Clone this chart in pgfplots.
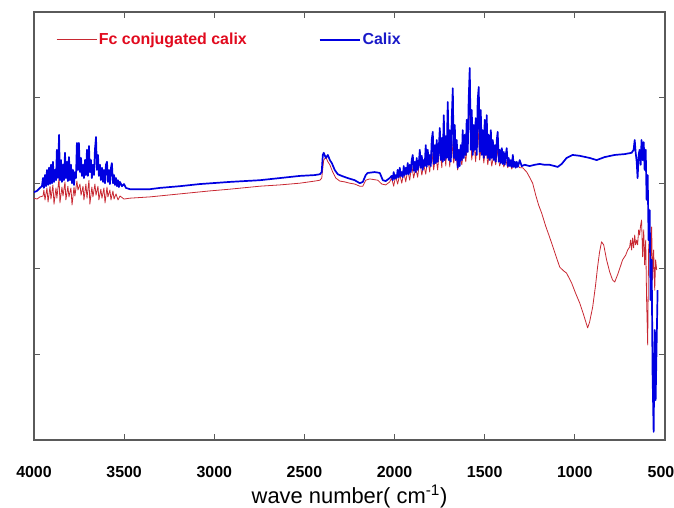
\documentclass[border=0pt]{standalone}
\usepackage{pgfplots}
\pgfplotsset{compat=1.18}
\usepackage{fontspec}
\setmainfont{Liberation Sans}
\definecolor{fcline}{RGB}{200,40,50}
\definecolor{fctext}{RGB}{225,10,30}
\definecolor{calixline}{RGB}{0,0,225}
\definecolor{calixtext}{RGB}{25,25,200}
\definecolor{axgray}{RGB}{90,90,90}
\begin{document}
\begin{tikzpicture}
\begin{axis}[
  scale only axis, width=631bp, height=428bp,
  x dir=reverse, xmin=500, xmax=4000, ymin=0, ymax=100,
  xtick={1000,1500,...,4000}, ytick={20,40,60,80}, yticklabels={},
  extra x ticks={500},
  extra x tick style={xticklabel style={xshift=-4bp}},
  tick align=inside, major tick length=6bp,
  axis line style={axgray, line width=1.2bp},
  every tick/.style={axgray, line width=1.2bp},
  /pgf/number format/assume math mode=true,
  /pgf/number format/1000 sep={},
  xticklabel style={font=\bfseries\fontsize{16}{16}\selectfont, anchor=base, yshift=-37bp},
  xlabel={wave number( cm\textsuperscript{-1})},
  xlabel style={font=\fontsize{22}{22}\selectfont, at={(axis description cs:0.5,0)}, anchor=base, yshift=-63bp},
  legend columns=2,
  legend style={draw=none, fill=none, at={(axis description cs:0.03,0.935)}, anchor=west,
    font=\bfseries\fontsize{16}{16}\selectfont,
    /tikz/every even column/.append style={column sep=70bp}},
  legend image code/.code={\draw[#1] (0bp,0bp) -- (40bp,0bp);},
]
\addplot[fcline, line width=0.8bp, line join=round] coordinates {
(4000,56.5) (3983,56.3) (3967,56.8) (3950,57.0) (3945,58.4) (3939,56.1) (3928,58.9) (3922,55.6)
(3911,59.3) (3906,56.3) (3895,59.6) (3889,55.1) (3878,58.9) (3873,56.5) (3861,61.2) (3856,55.4)
(3845,59.1) (3839,57.0) (3828,60.3) (3823,56.1) (3812,59.3) (3806,56.8) (3795,58.9) (3789,54.9)
(3778,59.1) (3773,57.0) (3762,60.5) (3756,58.4) (3745,59.8) (3739,57.2) (3728,59.3) (3723,56.1)
(3712,59.8) (3706,56.5) (3695,60.7) (3690,55.1) (3679,59.1) (3673,56.8) (3662,59.8) (3656,57.2)
(3645,59.3) (3640,56.1) (3629,58.6) (3623,56.5) (3612,58.9) (3606,55.4) (3595,59.1) (3590,56.8)
(3579,58.4) (3573,56.1) (3562,58.2) (3556,56.3) (3545,57.5) (3534,56.1) (3523,57.0) (3501,56.3)
(3468,56.5) (3357,56.8) (3191,57.5) (3024,58.2) (2914,58.6) (2747,59.3) (2636,59.6) (2526,60.0)
(2442,60.5) (2414,60.7) (2404,61.2) (2393,65.4) (2381,66.1) (2370,65.0) (2359,64.3) (2343,62.6)
(2326,61.2) (2304,60.5) (2276,60.3) (2248,60.0) (2221,59.8) (2193,59.3) (2176,59.3) (2160,60.7)
(2138,61.0) (2093,60.7) (2071,59.8) (2049,59.6) (2027,60.3)
(2016,61.2) (2005,59.3) (1994,61.7) (1983,59.8) (1971,62.1) (1960,60.0) (1949,62.6) (1938,60.3)
(1927,63.1) (1916,60.7) (1905,64.3) (1894,61.2) (1883,63.6) (1872,61.4) (1860,65.4) (1849,61.9)
(1838,64.3) (1827,62.1) (1816,65.9) (1805,62.6) (1794,67.8) (1783,63.1) (1772,66.6) (1761,63.1)
(1749,68.9) (1738,63.6) (1727,71.3) (1716,64.0) (1705,72.4) (1694,63.8) (1683,70.1) (1672,64.7)
(1661,67.8) (1650,63.1) (1639,66.6) (1627,64.3) (1616,68.2) (1605,65.0) (1594,70.1) (1583,79.4)
(1572,65.4) (1561,70.1) (1550,65.0) (1539,74.8) (1528,65.4) (1516,70.1) (1505,64.7) (1494,68.9)
(1483,64.3) (1472,67.8) (1461,64.0) (1450,66.6) (1439,64.3) (1428,67.8) (1417,64.0) (1405,65.9)
(1394,63.8) (1383,65.4) (1372,63.6) (1361,65.0) (1350,63.3) (1339,64.7) (1328,63.6) (1317,64.3)
(1306,63.6) (1289,63.6) (1267,62.6) (1251,61.4) (1234,60.0) (1217,57.2) (1201,54.9) (1184,53.0)
(1162,50.0) (1140,47.4) (1112,43.9) (1084,40.4) (1062,39.5) (1046,39.0) (1018,36.7) (996,34.3)
(973,32.0) (951,29.2) (929,26.2) (918,27.6) (901,31.1) (885,36.2) (874,40.4) (863,43.9)
(852,46.3) (840,45.6) (824,42.1) (807,39.3) (791,37.4) (779,36.9) (763,38.6) (746,40.7)
(735,42.1) (718,43.2) (707,44.4) (696,45.1) (691,46.7) (685,44.4) (680,47.2) (674,44.9)
(668,47.9) (663,45.6) (657,46.7) (652,45.6) (646,49.1) (641,47.9) (635,50.2) (630,51.4)
(624,42.8) (618,49.1) (613,40.9) (607,46.7) (602,32.7) (596,22.2) (591,44.4) (585,49.1)
(580,39.7) (574,49.8) (569,37.4) (563,44.4) (557,35.0) (552,42.1) (546,39.7)
};
\addlegendentry{\textcolor{fctext}{Fc conjugated calix}}
\addplot[calixline, line width=1.7bp, line join=round] coordinates {
(4000,57.9) (3983,58.2) (3967,58.9) (3956,59.3) (3950,61.2) (3945,58.9) (3939,61.9) (3933,59.3)
(3928,63.1) (3922,59.6) (3917,63.6) (3911,59.8) (3906,64.3) (3900,60.0) (3895,65.0) (3889,60.3)
(3884,63.1) (3878,60.7) (3873,67.8) (3867,61.2) (3861,71.3) (3856,60.7) (3850,65.4) (3845,60.3)
(3839,64.3) (3834,60.7) (3828,67.1) (3823,61.2) (3817,65.0) (3812,60.5) (3806,66.1) (3800,60.7)
(3795,64.3) (3789,60.0) (3784,63.1) (3778,59.6) (3773,62.6) (3767,61.2) (3762,69.4) (3756,63.1)
(3751,69.4) (3745,62.6) (3739,65.9) (3734,61.7) (3728,64.3) (3723,61.2) (3717,65.4) (3712,61.9)
(3706,67.8) (3701,61.7) (3695,68.7) (3690,62.6) (3684,65.4) (3679,61.2) (3673,64.3) (3667,61.9)
(3662,67.8) (3656,70.8) (3651,63.1) (3645,66.6) (3640,61.7) (3634,64.3) (3629,60.7) (3623,63.6)
(3617,60.3) (3612,63.1) (3606,60.0) (3601,64.3) (3595,65.0) (3590,60.3) (3584,63.1) (3579,59.8)
(3573,63.6) (3568,64.7) (3562,60.0) (3556,61.9) (3551,59.6) (3545,61.2) (3540,59.3) (3534,60.7)
(3529,59.1) (3523,60.3) (3512,59.3) (3501,59.8) (3490,58.9) (3468,58.6) (3412,58.6) (3357,58.6)
(3302,58.9) (3191,59.3) (3080,59.8) (2914,60.3) (2747,60.7) (2636,61.2) (2526,61.7) (2442,61.9)
(2414,62.1) (2404,62.6) (2398,66.6) (2393,67.1) (2381,65.9) (2370,66.6) (2359,65.4) (2348,64.7)
(2332,63.1) (2315,62.1) (2293,61.7) (2260,61.2) (2221,60.7) (2193,60.0) (2176,60.3) (2160,61.9)
(2149,62.4) (2110,62.6) (2082,62.4) (2065,60.7) (2049,60.5) (2027,61.2)
(2016,61.7) (2010,60.7) (2005,62.6) (1999,61.0) (1994,61.9) (1988,61.2) (1983,63.1) (1977,61.4)
(1971,63.6) (1966,61.7) (1960,62.6) (1955,61.4) (1949,64.0) (1944,61.9) (1938,63.6) (1933,62.1)
(1927,64.7) (1921,62.1) (1916,64.3) (1910,62.6) (1905,65.4) (1899,66.6) (1894,62.9) (1888,65.0)
(1883,62.6) (1877,65.9) (1872,63.1) (1866,64.3) (1860,67.8) (1855,63.6) (1849,66.4) (1844,63.1)
(1838,65.4) (1833,64.0) (1827,68.9) (1822,63.8) (1816,67.8) (1810,64.3) (1805,66.6) (1799,64.0)
(1794,70.1) (1788,72.0) (1783,64.5) (1777,68.9) (1772,64.7) (1766,70.1) (1761,65.0) (1755,67.8)
(1749,72.9) (1744,65.4) (1738,70.6) (1733,65.0) (1727,75.9) (1722,65.4) (1716,71.0) (1711,65.9)
(1705,79.0) (1699,65.4) (1694,72.4) (1688,65.0) (1683,74.8) (1677,82.2) (1672,65.9) (1666,73.6)
(1661,65.4) (1655,70.1) (1650,63.6) (1644,67.8) (1639,64.0) (1633,68.9) (1627,65.4) (1622,72.4)
(1616,65.9) (1611,71.3) (1605,66.6) (1600,74.8) (1594,67.3) (1589,79.4) (1583,86.9) (1577,67.8)
(1572,77.1) (1566,66.6) (1561,73.6) (1555,67.8) (1550,75.2) (1544,66.6) (1539,79.4) (1533,82.5)
(1528,67.3) (1522,77.1) (1516,66.6) (1511,72.4) (1505,65.9) (1500,74.8) (1494,66.6) (1489,75.9)
(1483,65.9) (1478,71.3) (1472,65.4) (1466,72.4) (1461,65.9) (1455,70.1) (1450,65.4) (1444,68.9)
(1439,65.0) (1433,70.1) (1428,72.0) (1422,65.0) (1417,67.8) (1411,64.7) (1405,68.2) (1400,64.5)
(1394,67.3) (1389,64.3) (1383,66.6) (1378,68.2) (1372,64.0) (1367,65.9) (1361,64.0) (1355,65.4)
(1350,63.8) (1344,66.6) (1339,63.8) (1333,65.0) (1328,63.6) (1322,65.0) (1317,63.8) (1311,64.5)
(1306,65.4) (1295,64.0) (1278,64.3) (1251,64.0) (1223,64.3) (1195,64.5) (1168,64.3) (1140,64.3)
(1112,64.0) (1095,63.8) (1073,64.5) (1046,65.9) (1012,66.6) (973,66.4) (918,65.9) (879,65.4)
(835,66.1) (779,66.6) (724,66.8) (685,67.1) (674,67.8) (668,70.1) (663,67.3) (657,65.0)
(652,61.2) (646,66.6) (641,67.8) (635,64.3) (630,70.1) (624,65.4) (618,69.6) (613,63.1)
(607,67.8) (602,56.1) (596,61.9) (591,46.7) (585,53.7) (580,32.7) (574,42.1) (569,15.7)
(563,1.9) (557,25.7) (552,9.3) (546,23.4) (541,35.0)
};
\addlegendentry{\textcolor{calixtext}{Calix}}
\end{axis}
\pgfresetboundingbox
\path[use as bounding box] (-34bp,-68bp) rectangle (640bp,440bp);
\end{tikzpicture}
\end{document}
